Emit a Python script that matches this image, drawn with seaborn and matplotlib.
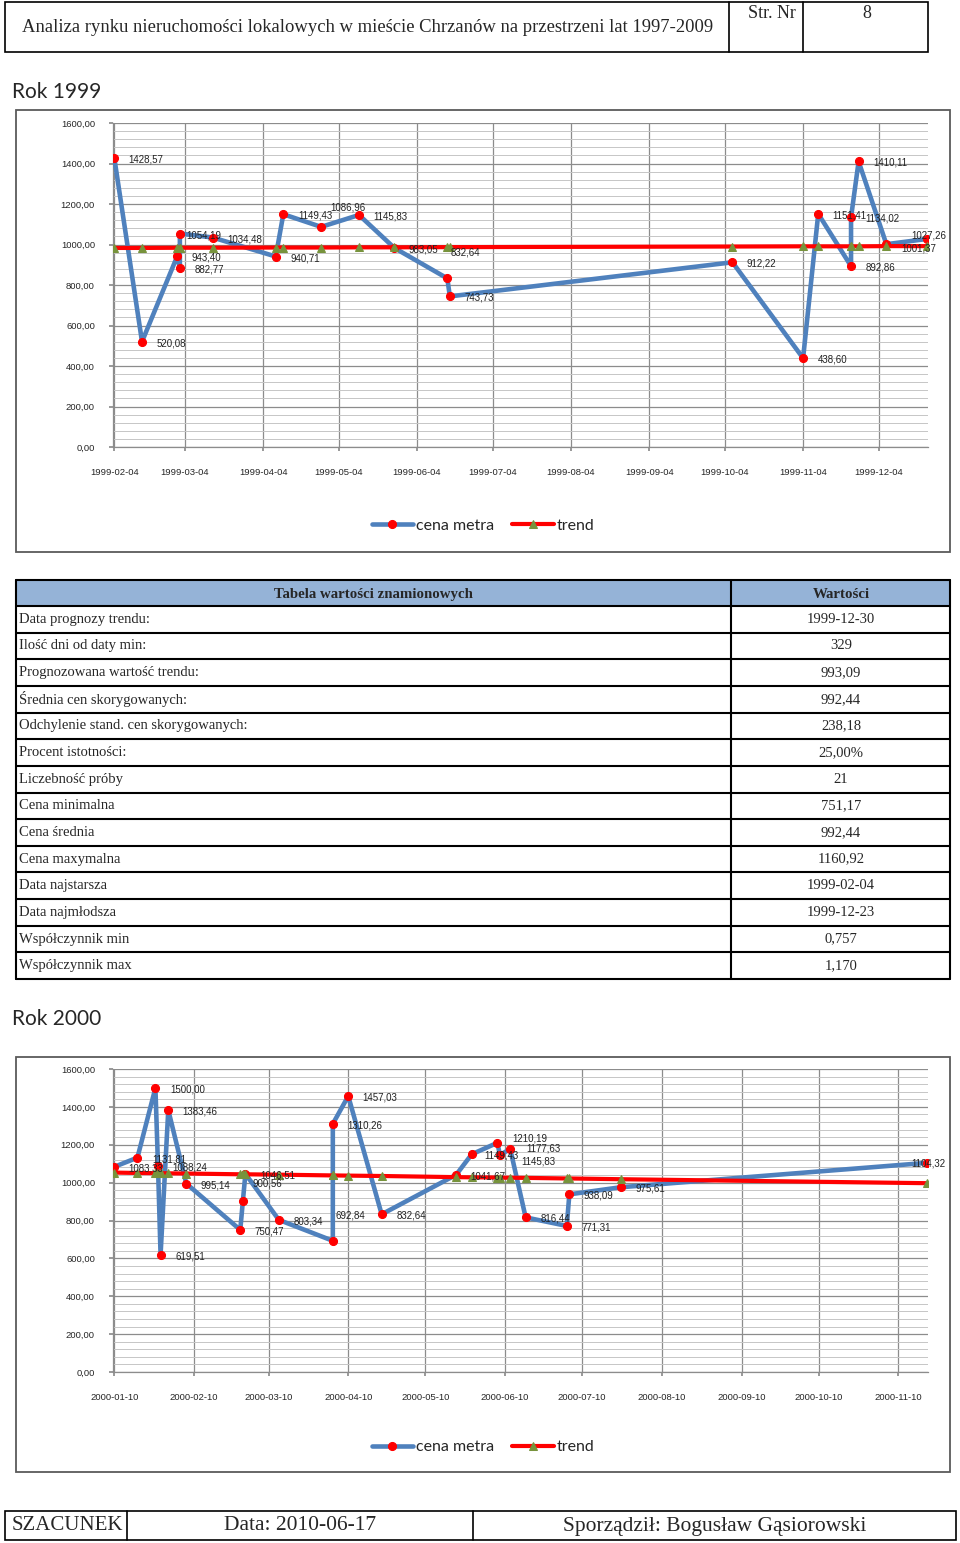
import numpy as np
import pandas as pd
import matplotlib
matplotlib.use("Agg")
import matplotlib.pyplot as plt
import seaborn as sns
from matplotlib.patches import Rectangle
from matplotlib.lines import Line2D
from matplotlib.ticker import MultipleLocator, FuncFormatter

# ---------------- data ----------------
dates_1999 = ['1999-02-04', '1999-02-15', '1999-03-01', '1999-03-02', '1999-03-02',
              '1999-03-15', '1999-04-09', '1999-04-12', '1999-04-27', '1999-05-12',
              '1999-05-26', '1999-06-16', '1999-06-17', '1999-10-07', '1999-11-04',
              '1999-11-10', '1999-11-23', '1999-11-23', '1999-11-26', '1999-12-07',
              '1999-12-23']
cena_1999 = [1428.57, 520.08, 943.40, 882.77, 1054.19, 1034.48, 940.71, 1149.43,
             1086.96, 1145.83, 983.05, 832.64, 743.73, 912.22, 438.60, 1151.41,
             892.86, 1134.02, 1410.11, 1001.37, 1027.26]
trend_1999 = [983, 983, 984, 984, 984, 984, 985, 985, 985, 986, 986, 987, 987,
              990, 991, 991, 991, 991, 991, 992, 992]
ticks_1999 = ['1999-02-04', '1999-03-04', '1999-04-04', '1999-05-04', '1999-06-04',
              '1999-07-04', '1999-08-04', '1999-09-04', '1999-10-04', '1999-11-04',
              '1999-12-04']

dates_2000 = ['2000-01-10', '2000-01-19', '2000-01-26', '2000-01-27', '2000-01-28',
              '2000-01-31', '2000-02-07', '2000-02-28', '2000-02-29', '2000-03-01',
              '2000-03-14', '2000-04-04', '2000-04-04', '2000-04-10', '2000-04-23',
              '2000-05-22', '2000-05-28', '2000-06-07', '2000-06-08', '2000-06-12',
              '2000-06-18', '2000-07-04', '2000-07-05', '2000-07-25', '2000-11-21']
cena_2000 = [1083.33, 1131.81, 1500.00, 1088.24, 619.51, 1383.46, 995.14, 750.47,
             900.56, 1046.51, 803.34, 692.84, 1310.26, 1457.03, 832.64, 1041.67,
             1149.43, 1210.19, 1145.83, 1177.63, 816.44, 771.31, 938.09, 975.61,
             1104.32]
trend_2000 = [1053, 1051, 1050, 1050, 1050, 1049, 1048, 1044, 1044, 1044, 1042,
              1038, 1038, 1037, 1035, 1029, 1028, 1027, 1026, 1026, 1025, 1022,
              1022, 1018, 997]
ticks_2000 = ['2000-01-10', '2000-02-10', '2000-03-10', '2000-04-10', '2000-05-10',
              '2000-06-10', '2000-07-10', '2000-08-10', '2000-09-10', '2000-10-10',
              '2000-11-10']

table_labels = ['Data prognozy trendu:', 'Ilość dni od daty min:', 'Prognozowana wartość trendu:',
                'Średnia cen skorygowanych:', 'Odchylenie stand. cen skorygowanych:',
                'Procent istotności:', 'Liczebność próby', 'Cena minimalna', 'Cena średnia',
                'Cena maxymalna', 'Data najstarsza', 'Data najmłodsza', 'Współczynnik min',
                'Współczynnik max']
table_values = ['1999-12-30', '329', '993,09', '992,44', '238,18', '25,00%', '21',
                '751,17', '992,44', '1160,92', '1999-02-04', '1999-12-23', '0,757', '1,170']

# ---------------- styling ----------------
sns.set_theme(style="white")
plt.rcParams['font.family'] = ['Liberation Sans', 'DejaVu Sans']

W, H = 960, 1543
fig = plt.figure(figsize=(W / 100, H / 100), dpi=100)
fig.patch.set_facecolor('white')

PX = 0.72  # points per pixel


def px_axes(l, t, r, b):
    return fig.add_axes([l / W, 1 - b / H, (r - l) / W, (b - t) / H])


def ftext(x, y, s, **kw):
    fig.text(x / W, 1 - y / H, s, **kw)


def frect(l, t, r, b, **kw):
    fig.add_artist(Rectangle((l / W, 1 - b / H), (r - l) / W, (b - t) / H,
                             transform=fig.transFigure, **kw))


def fline(x0, y0, x1, y1, **kw):
    fig.add_artist(Line2D([x0 / W, x1 / W], [1 - y0 / H, 1 - y1 / H],
                          transform=fig.transFigure, **kw))


BLUE = '#4F81BD'
RED = '#FF0000'
OLIVE = '#77933C'


def draw_chart(box, axbox, dates, prices, trend, ticks, offsets, legend_y):
    frect(*box, fill=False, ec='#5a5a5a', lw=1.3)
    ax = px_axes(*axbox)
    df = pd.DataFrame({'data': pd.to_datetime(dates), 'cena': prices, 'trend': trend})
    sns.lineplot(data=df, x='data', y='cena', ax=ax, estimator=None, sort=False,
                 color=BLUE, lw=3.3, marker='o', markersize=5.8,
                 markerfacecolor=RED, markeredgecolor=RED, label='cena metra', zorder=3)
    sns.lineplot(data=df, x='data', y='trend', ax=ax, estimator=None, sort=False,
                 color=RED, lw=3.0, marker='^', markersize=6.2,
                 markerfacecolor=OLIVE, markeredgecolor=OLIVE, label='trend', zorder=4)
    for i, (d, v) in enumerate(zip(df['data'], df['cena'])):
        dx, dy = offsets.get(i, (14.5, 1.5))
        ax.annotate(f"{v:.2f}".replace('.', ','), (d, v),
                    xytext=(dx * PX, -dy * PX), textcoords='offset points',
                    ha='left', va='center', fontsize=7, color='#222222', zorder=6,
                    family=['Liberation Sans', 'DejaVu Sans'])
    d0 = df['data'].min() - pd.Timedelta(hours=12)
    d1 = df['data'].max() + pd.Timedelta(hours=12)
    ax.set_xlim(d0, d1)
    ax.set_ylim(0, 1600)
    ax.yaxis.set_major_locator(MultipleLocator(200))
    ax.yaxis.set_minor_locator(MultipleLocator(40))
    ax.yaxis.set_major_formatter(FuncFormatter(lambda v, p: f"{v:.2f}".replace('.', ',')))
    tk = pd.to_datetime(ticks)
    ax.set_xticks(tk)
    ax.set_xticklabels(ticks)
    ax.set_xlabel('')
    ax.set_ylabel('')
    ax.grid(which='major', axis='both', color='#8C8C8C', lw=0.9)
    ax.grid(which='minor', axis='y', color='#C6C6C6', lw=0.7)
    ax.set_axisbelow(True)
    for s in ['top', 'right']:
        ax.spines[s].set_visible(False)
    for s in ['left', 'bottom']:
        ax.spines[s].set_color('#8C8C8C')
        ax.spines[s].set_linewidth(0.9)
    ax.tick_params(axis='both', which='major', labelsize=6.8, length=3, color='#8C8C8C',
                   bottom=True, left=True)
    ax.tick_params(axis='x', pad=12)
    ax.tick_params(axis='y', pad=10)
    ax.tick_params(which='minor', left=False)
    ax.set_facecolor('white')
    h, l = ax.get_legend_handles_labels()
    ax.get_legend().remove()
    cx = (box[0] + box[2]) / 2
    fig.legend(h, l, loc='center', bbox_to_anchor=(cx / W, 1 - legend_y / H), ncol=2,
               frameon=False, prop={'family': 'Lato', 'size': 11.5}, handlelength=2.6,
               handletextpad=0.2, columnspacing=1.1)
    return ax


# ---------------- header ----------------
frect(5, 2, 928, 52, fill=False, ec='black', lw=1.2)
fline(729, 2, 729, 52, color='black', lw=1.2)
fline(803, 2, 803, 52, color='black', lw=1.2)
ftext(22, 28, 'Analiza rynku nieruchomości lokalowych w mieście Chrzanów na przestrzeni lat 1997-2009',
      family='Liberation Serif', fontsize=13.4, va='center', ha='left')
ftext(748, 14, 'Str. Nr', family='Liberation Serif', fontsize=13, va='center', ha='left')
ftext(867, 14, '8', family='Liberation Serif', fontsize=13, va='center', ha='center')

# ---------------- Rok 1999 ----------------
ftext(12, 92, 'Rok 1999', family='Lato', fontsize=15, va='center', ha='left')
off1 = {4: (6, 1.5), 8: (9, -19), 11: (3, -26), 19: (14.5, 4), 20: (-15, -3)}
draw_chart((16, 110, 950, 552), (113, 123, 928, 447), dates_1999, cena_1999, trend_1999,
           ticks_1999, off1, 526)

# ---------------- table ----------------
t_top, t_head, t_bot = 580, 606, 979
frect(16, t_top, 950, t_head, fc='#95B3D7', ec='none')
rh = (t_bot - t_head) / len(table_labels)
ys = [t_top, t_head] + [t_head + rh * (i + 1) for i in range(len(table_labels))]
for y in ys:
    fline(16, y, 950, y, color='black', lw=1.5)
for x in (16, 731, 950):
    fline(x, t_top, x, t_bot, color='black', lw=1.5)
ftext(373, (t_top + t_head) / 2 + 1, 'Tabela wartości znamionowych', family='Liberation Serif',
      fontsize=10.7, weight='bold', ha='center', va='center')
ftext(841, (t_top + t_head) / 2 + 1, 'Wartości', family='Liberation Serif',
      fontsize=10.7, weight='bold', ha='center', va='center')
for i, (lab, val) in enumerate(zip(table_labels, table_values)):
    yc = t_head + rh * (i + 0.5)
    ftext(19, yc, lab, family='Liberation Serif', fontsize=10.5, ha='left', va='center')
    ftext(841, yc, val, family='Liberation Serif', fontsize=10.5, ha='center', va='center')

# ---------------- Rok 2000 ----------------
ftext(12, 1019, 'Rok 2000', family='Lato', fontsize=15, va='center', ha='left')
off2 = {8: (10, -18), 11: (3, -25), 16: (13, 1.5), 17: (14.5, -4),
        18: (21, 6), 19: (16, 0), 24: (-15, 1)}
draw_chart((16, 1057, 950, 1472), (113, 1069, 928, 1372), dates_2000, cena_2000, trend_2000,
           ticks_2000, off2, 1447)

# ---------------- footer ----------------
frect(5, 1511, 956, 1540, fill=False, ec='black', lw=1.2)
fline(127, 1511, 127, 1540, color='black', lw=1.2)
fline(473, 1511, 473, 1540, color='black', lw=1.2)
ftext(12, 1526, 'SZACUNEK', family='Liberation Serif', fontsize=15, ha='left', va='center')
ftext(300, 1526, 'Data: 2010-06-17', family='Liberation Serif', fontsize=15.5, ha='center', va='center')
ftext(715, 1526, 'Sporządził: Bogusław Gąsiorowski', family='Liberation Serif', fontsize=15.5,
      ha='center', va='center')

fig.savefig('out.png', dpi=100, facecolor='white')
